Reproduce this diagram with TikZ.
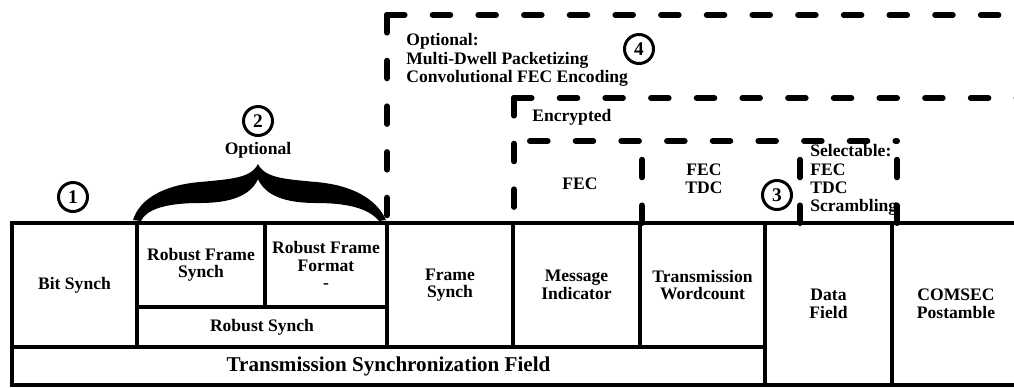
\documentclass[tikz,border=0pt]{standalone}
\usepackage{fontspec}
\setmainfont{Liberation Serif}
\usetikzlibrary{positioning}

\begin{document}
\begin{tikzpicture}[x=0.02cm, y=-0.02cm,
    field node/.style={draw, line width=2.6pt, inner sep=0pt, align=center, font=\bfseries\fontsize{10}{10}\selectfont},
    zone line/.style={line width=3.4pt, line cap=round, dash pattern=on 10pt off 16pt},
    num node/.style={circle, draw, line width=1.7pt, minimum size=0.58cm, inner sep=0pt, font=\bfseries\fontsize{11}{11}\selectfont},
    note node/.style={align=left, inner sep=0pt, font=\bfseries\fontsize{10}{10.4}\selectfont}]
    \useasboundingbox (0,0) rectangle (1014,387);

    % frame fields
    \node[field node, minimum width=2.5cm, minimum height=2.48cm] (bit) at (74.5,285) {Bit Synch};
    \node[field node, minimum width=2.56cm, minimum height=1.68cm] (rfs) at (201,265) {Robust Frame\\Synch};
    \node[field node, minimum width=2.44cm, minimum height=1.68cm] (rff) at (326,265) {Robust Frame\\Format\\-};
    \node[field node, minimum width=5cm, minimum height=0.8cm] (rs) at (262,327) {Robust Synch};
    \node[field node, minimum width=2.52cm, minimum height=2.48cm] (fs) at (450,285) {Frame\\Synch};
    \node[field node, minimum width=2.54cm, minimum height=2.48cm] (mi) at (576.5,285) {Message\\Indicator};
    \node[field node, minimum width=2.5cm, minimum height=2.48cm] (tw) at (702.5,285) {Transmission\\Wordcount};
    \node[field node, minimum width=15.06cm, minimum height=0.76cm, font=\bfseries\fontsize{12}{12}\selectfont] (tsf) at (388.5,366) {Transmission Synchronization Field};
    \node[field node, minimum width=2.54cm, minimum height=3.24cm] (df) at (828.5,304) {Data\\Field};
    \node[field node, minimum width=2.56cm, minimum height=3.24cm] (cs) at (956,304) {COMSEC\\Postamble};

    % dashed regions
    \draw[zone line] (387,15) -- (387,223);
    \draw[zone line] (387,15) -- (1030,15);
    \draw[zone line] (514,98) -- (514,223);
    \draw[zone line] (514,98) -- (1030,98);
    \draw[zone line] (530,141) -- (897,141);
    \draw[zone line] (642,223) -- (642,150);
    \draw[zone line] (800,223) -- (800,150);
    \draw[zone line] (897,223) -- (897,150);

    % brace
    \fill (133,220) .. controls (140,198) and (165,185) .. (200,182)
        .. controls (232,179) and (251,178) .. (258,164)
        .. controls (265,178) and (284,179) .. (316,182)
        .. controls (351,185) and (376,198) .. (386,220)
        -- (379,221) .. controls (370,210) and (352,203) .. (316,203)
        .. controls (284,203) and (265,195) .. (258,179)
        .. controls (251,195) and (232,203) .. (200,203)
        .. controls (164,203) and (146,210) .. (141,221) -- cycle;

    % labels
    \node[num node] (n1) at (73,197) {1};
    \node[num node] (n2) at (258,121) {2};
    \node[note node, below=3pt of n2] (opt2) {Optional};
    \node[num node] (n3) at (777,195) {3};
    \node[num node] (n4) at (639,49) {4};
    \node[note node, anchor=west] (opt4) at (406,60) {Optional:\\Multi-Dwell Packetizing\\Convolutional FEC Encoding};
    \node[note node, anchor=west] (enc) at (532,117) {Encrypted};
    \node[note node] (fec) at (580,184) {FEC};
    \node[note node, align=center] (fectdc) at (704,179) {FEC\\TDC};
    \node[note node, anchor=west] (sel) at (810,180) {Selectable:\\FEC\\TDC\\Scrambling};
\end{tikzpicture}
\end{document}
